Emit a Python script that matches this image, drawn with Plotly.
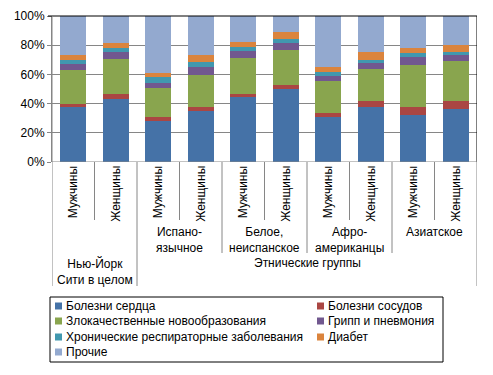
import plotly.graph_objects as go

# ---- data ----
sex_labels = ["Мужчины", "Женщины"] * 5
group_labels = ["", "Испано-<br>язычное", "Белое,<br>неиспанское", "Афро-<br>американцы", "Азиатское"]
top_labels = ["Нью-Йорк<br>Сити в целом", "Этнические группы"]

series_names = [
    "Болезни сердца",
    "Болезни сосудов",
    "Злокачественные новообразования",
    "Грипп и пневмония",
    "Хронические респираторные заболевания",
    "Диабет",
    "Прочие",
]
heart     = [37.4, 43.3, 27.8, 34.6, 44.2, 49.7, 31.0, 37.4, 31.9, 36.0]
vessels   = [2.5, 3.4, 2.7, 3.2, 2.7, 3.1, 2.7, 4.1, 5.5, 6.1]
cancer    = [23.2, 23.9, 20.5, 21.9, 24.6, 24.2, 21.9, 22.3, 29.1, 27.1]
flu       = [4.1, 5.0, 3.2, 5.4, 4.6, 4.5, 3.4, 4.1, 5.5, 4.1]
chronic   = [2.7, 2.8, 3.7, 3.5, 2.7, 2.8, 2.7, 2.3, 2.7, 2.3]
diabetes  = [3.4, 3.1, 3.4, 4.7, 3.4, 4.8, 3.2, 5.2, 3.4, 4.6]
other     = [26.7, 18.5, 38.7, 26.7, 17.8, 10.9, 35.1, 24.6, 21.9, 19.8]
y_ticks = [0, 20, 40, 60, 80, 100]

series_values = [heart, vessels, cancer, flu, chronic, diabetes, other]
colors = ["#4572A7", "#AA4643", "#89A54E", "#71588F", "#4198AF", "#DB843D", "#93A9CF"]

FONT = "Liberation Sans, Arial, sans-serif"
FS = 12
GRID = "#868686"
x = list(range(len(sex_labels)))

fig = go.Figure()
for name, vals, c in zip(series_names, series_values, colors):
    fig.add_trace(go.Bar(x=x, y=vals, name=name, marker=dict(color=c, line=dict(width=0)),
                         showlegend=False))

# page has an 8px body margin; work in page pixels and convert
OFF = 8
W, HH = 493 - OFF, 375 - OFF
PL, PR, PT, PB = 52, 477, 16, 162   # plot area in page px
H = PB - PT
PW = PR - PL
def py(pix):
    return (PB - pix) / H
def px(pix):
    return (pix - PL) / PW

shapes = []
annotations = []
tfont = dict(family=FONT, size=FS, color="#000000")

# frame top & right (black)
shapes.append(dict(type="line", xref="paper", yref="paper", x0=px(48), x1=1, y0=1, y1=1,
                   line=dict(color="#000000", width=1)))
shapes.append(dict(type="line", xref="x", yref="paper", x0=9.5, x1=9.5, y0=0, y1=1,
                   line=dict(color="#000000", width=1)))
# left axis line extended down
shapes.append(dict(type="line", xref="x", yref="paper", x0=-0.5, x1=-0.5, y0=1, y1=py(286),
                   line=dict(color=GRID, width=1)))
# separators in category axis
for k in range(10):
    xs = k + 0.5
    if xs in (1.5, 9.5):
        bottom = 286
    elif xs in (3.5, 5.5, 7.5):
        bottom = 253
    else:
        bottom = 220
    shapes.append(dict(type="line", xref="x", yref="paper", x0=xs, x1=xs, y0=0, y1=py(bottom),
                       line=dict(color=GRID, width=1)))

# level 1: rotated sex labels
for i, s in enumerate(sex_labels):
    annotations.append(dict(x=i, y=py(164), xref="x", yref="paper", text=s, textangle=-90,
                            showarrow=False, xanchor="center", yanchor="top", font=tfont))
# level 2: group labels
for g, lab in enumerate(group_labels):
    if lab:
        annotations.append(dict(x=2 * g + 0.5, y=py(223), xref="x", yref="paper", text=lab,
                                showarrow=False, xanchor="center", yanchor="top", font=tfont))
# level 3
annotations.append(dict(x=0.5, y=py(254), xref="x", yref="paper", text=top_labels[0],
                        showarrow=False, xanchor="center", yanchor="top", font=tfont))
annotations.append(dict(x=5.5, y=py(254), xref="x", yref="paper", text=top_labels[1],
                        showarrow=False, xanchor="center", yanchor="top", font=tfont))

# legend box
shapes.append(dict(type="rect", xref="paper", yref="paper", x0=px(50), x1=px(443),
                   y0=py(297), y1=py(362), line=dict(color="#000000", width=1),
                   fillcolor="rgba(0,0,0,0)"))
row_y = [306, 321, 337, 352]
col_x = [55, 317]
for idx, (name, c) in enumerate(zip(series_names, colors)):
    r, col = divmod(idx, 2)
    cx, cy = col_x[col], row_y[r]
    shapes.append(dict(type="rect", xref="paper", yref="paper", x0=px(cx), x1=px(cx + 7),
                       y0=py(cy + 3.5), y1=py(cy - 3.5), line=dict(width=0), fillcolor=c))
    annotations.append(dict(x=px(cx + 9), y=py(cy), xref="paper", yref="paper", text=name,
                            showarrow=False, xanchor="left", yanchor="middle", font=tfont))

fig.update_layout(
    barmode="stack",
    bargap=0.39,
    width=W, height=HH,
    margin=dict(l=PL - OFF, r=W - (PR - OFF), t=PT - OFF, b=HH - (PB - OFF), pad=0, autoexpand=False),
    plot_bgcolor="#FFFFFF",
    paper_bgcolor="#FFFFFF",
    font=tfont,
    shapes=shapes,
    annotations=annotations,
    xaxis=dict(range=[-0.5, 9.5], showticklabels=False, showgrid=False, zeroline=False,
               showline=False, ticks=""),
    yaxis=dict(range=[0, 100], tickvals=y_ticks, ticktext=[f"{v}%" for v in y_ticks],
               showgrid=True, gridcolor=GRID, gridwidth=1, zeroline=False,
               showline=True, linecolor=GRID, linewidth=1,
               ticks="outside", ticklen=4, tickcolor=GRID, automargin=False,
               tickfont=tfont),
)
fig.add_hline(y=0, line=dict(color=GRID, width=1))

fig.write_html("out.html")
